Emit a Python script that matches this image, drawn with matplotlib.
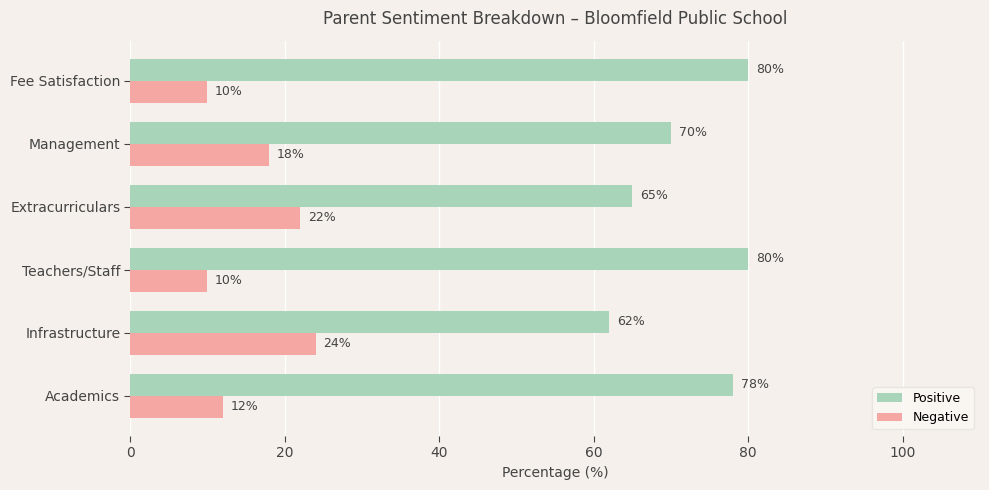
import matplotlib
matplotlib.use("Agg")
import matplotlib.pyplot as plt
import numpy as np

categories = ["Academics", "Infrastructure", "Teachers/Staff", "Extracurriculars", "Management", "Fee Satisfaction"]
positive = [78, 62, 80, 65, 70, 80]
negative = [12, 24, 10, 22, 18, 10]

bg = "#f5f0eb"
green = "#a8d5b9"
pink = "#f5a7a3"
txt = "#444444"

fig, ax = plt.subplots(figsize=(9.89, 4.9), dpi=100)
fig.patch.set_facecolor(bg)
ax.set_facecolor(bg)

y = np.arange(len(categories))
h = 0.35
b1 = ax.barh(y + h / 2, positive, height=h, color=green, label="Positive", zorder=3)
b2 = ax.barh(y - h / 2, negative, height=h, color=pink, label="Negative", zorder=3)

for bars, vals in ((b1, positive), (b2, negative)):
    for bar, v in zip(bars, vals):
        ax.text(bar.get_width() + 1, bar.get_y() + bar.get_height() / 2, f"{v}%",
                va="center", ha="left", fontsize=9, color=txt)

ax.set_yticks(y)
ax.set_yticklabels(categories)
ax.set_xlim(0, 110)
ax.set_xticks([0, 20, 40, 60, 80, 100])
ax.grid(axis="x", color="white", linewidth=1, zorder=0)
ax.set_axisbelow(True)
for s in ax.spines.values():
    s.set_visible(False)
ax.tick_params(colors=txt, labelsize=10, length=4)
ax.tick_params(axis="y", pad=3)
ax.set_xlabel("Percentage (%)", color=txt, fontsize=10)
ax.set_title("Parent Sentiment Breakdown – Bloomfield Public School", color=txt, fontsize=12, pad=12)
leg = ax.legend(loc="lower right", fontsize=9, facecolor="#fbf8f5", edgecolor="#e6e1dc")

fig.subplots_adjust(left=0.1315, right=0.991, top=0.917, bottom=0.111)
fig.savefig("out.png", dpi=100, facecolor=bg)
